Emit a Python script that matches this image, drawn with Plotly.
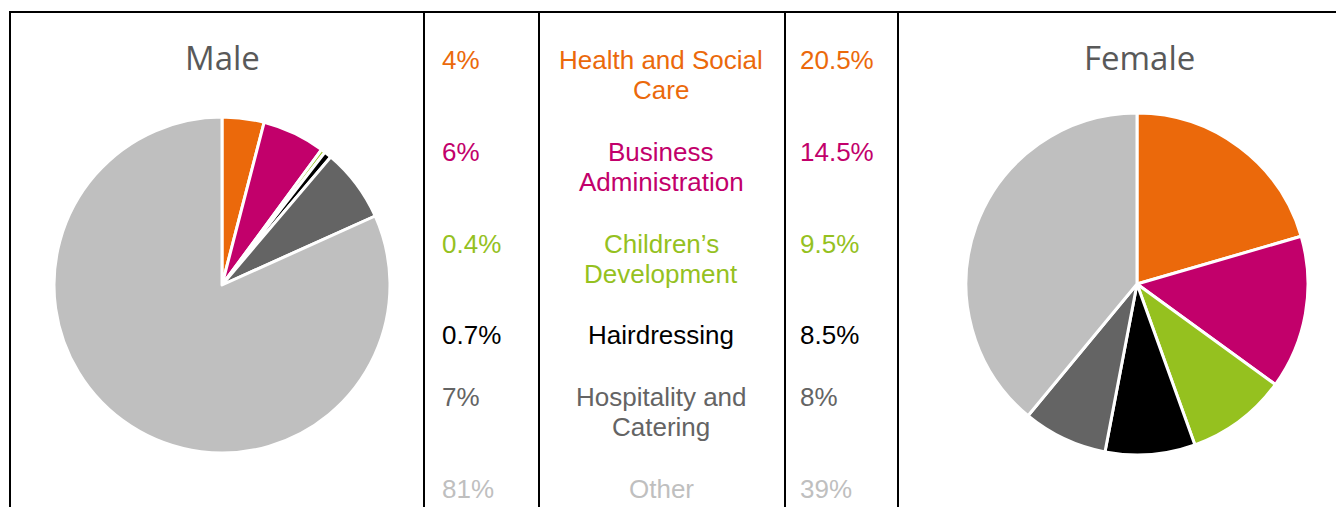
import plotly.graph_objects as go

W, H = 1344, 507
OFF = 8  # page body margin offset

categories = ["Health and Social Care", "Business Administration", "Children’s Development",
              "Hairdressing", "Hospitality and Catering", "Other"]
label_lines = [["Health and Social", "Care"], ["Business", "Administration"], ["Children’s", "Development"],
               ["Hairdressing"], ["Hospitality and", "Catering"], ["Other"]]
male_values = [4, 6, 0.4, 0.7, 7, 81]
female_values = [20.5, 14.5, 9.5, 8.5, 8, 39]
male_labels = ["4%", "6%", "0.4%", "0.7%", "7%", "81%"]
female_labels = ["20.5%", "14.5%", "9.5%", "8.5%", "8%", "39%"]
colors = ["#EB690B", "#C2006B", "#95C11F", "#000000", "#646464", "#BFBFBF"]
row_y = [60, 152, 244, 335, 397, 489]  # pixel y of first text line per row


def px(x):
    return (x - OFF) / W


def py(y):
    return 1 - (y - OFF) / H


fig = go.Figure()


def pie_domain(cx, cy, r):
    return dict(x=[px(cx - r), px(cx + r)], y=[py(cy + r), py(cy - r)])


fig.add_trace(go.Pie(
    labels=categories, values=male_values, sort=False, direction="clockwise", rotation=0,
    marker=dict(colors=colors, line=dict(color="white", width=3)),
    textinfo="none", hoverinfo="label+percent", showlegend=False,
    domain=pie_domain(222, 285, 168),
))
fig.add_trace(go.Pie(
    labels=categories, values=female_values, sort=False, direction="clockwise", rotation=0,
    marker=dict(colors=colors, line=dict(color="white", width=3)),
    textinfo="none", hoverinfo="label+percent", showlegend=False,
    domain=pie_domain(1137, 284, 171),
))

shapes = []
lw = 2
shapes.append(dict(type="line", xref="paper", yref="paper", x0=px(9), x1=1.0, y0=py(12), y1=py(12),
                   line=dict(color="black", width=lw)))
for xv in [10, 424, 539, 785, 898]:
    shapes.append(dict(type="line", xref="paper", yref="paper", x0=px(xv), x1=px(xv), y0=py(11), y1=0,
                       line=dict(color="black", width=lw)))

annotations = []
title_font = dict(family="Open Sans", size=33, color="#595959")
annotations.append(dict(text="Male", x=px(223), y=py(57), xref="paper", yref="paper",
                        showarrow=False, font=title_font, xanchor="center", yanchor="middle"))
annotations.append(dict(text="Female", x=px(1139), y=py(57), xref="paper", yref="paper",
                        showarrow=False, font=title_font, xanchor="center", yanchor="middle"))

fs = 26
for i in range(len(categories)):
    c = colors[i]
    f = dict(family="Liberation Sans, Arial", size=fs, color=c)
    annotations.append(dict(text=male_labels[i], x=px(440), y=py(row_y[i]), xref="paper", yref="paper",
                            showarrow=False, font=f, xanchor="left", yanchor="middle"))
    annotations.append(dict(text=female_labels[i], x=px(798), y=py(row_y[i]), xref="paper", yref="paper",
                            showarrow=False, font=f, xanchor="left", yanchor="middle"))
    for k, line in enumerate(label_lines[i]):
        annotations.append(dict(text=line, x=px(661), y=py(row_y[i] + 30 * k), xref="paper", yref="paper",
                                showarrow=False, font=f, xanchor="center", yanchor="middle"))

fig.update_layout(
    width=W, height=H, margin=dict(l=0, r=0, t=0, b=0),
    paper_bgcolor="white", plot_bgcolor="white",
    shapes=shapes, annotations=annotations,
)

fig.write_html("out.html")
